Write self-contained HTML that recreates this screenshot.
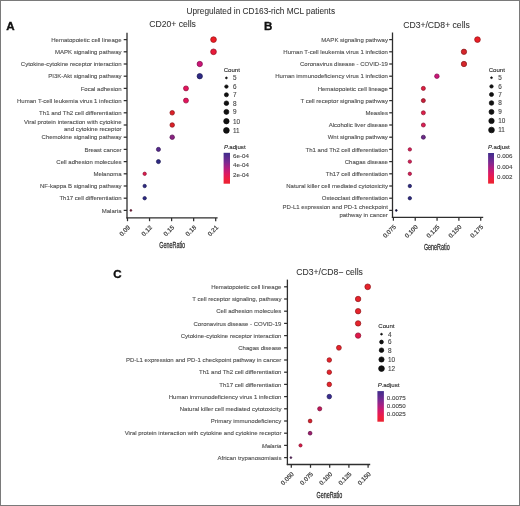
<!DOCTYPE html>
<html><head><meta charset="utf-8"><style>
html,body{margin:0;padding:0;background:#fff;}
body{width:520px;height:506px;overflow:hidden;position:relative;}
svg{position:absolute;left:0;top:0;will-change:transform;filter:blur(0.3px);}
svg{font-family:"Liberation Sans",sans-serif;}
.frame{position:absolute;left:0;top:0;width:520px;height:506px;box-sizing:border-box;border:1px solid #7a7a7a;}
</style></head><body>
<svg width="520" height="506" viewBox="0 0 520 506">
<line x1="127.00" y1="32.80" x2="127.00" y2="218.50" stroke="#2e2e2e" stroke-width="1.3"/>
<line x1="126.40" y1="217.90" x2="217.60" y2="217.90" stroke="#2e2e2e" stroke-width="1.3"/>
<line x1="123.70" y1="39.60" x2="127.00" y2="39.60" stroke="#2e2e2e" stroke-width="1.25"/>
<text x="121.50" y="41.80" font-size="6.03" text-anchor="end" fill="#505050"  stroke="#505050" stroke-width="0.12">Hematopoietic cell lineage</text>
<line x1="123.70" y1="51.80" x2="127.00" y2="51.80" stroke="#2e2e2e" stroke-width="1.25"/>
<text x="121.50" y="54.00" font-size="6.03" text-anchor="end" fill="#505050"  stroke="#505050" stroke-width="0.12">MAPK signaling pathway</text>
<line x1="123.70" y1="64.00" x2="127.00" y2="64.00" stroke="#2e2e2e" stroke-width="1.25"/>
<text x="121.50" y="66.20" font-size="6.03" text-anchor="end" fill="#505050"  stroke="#505050" stroke-width="0.12">Cytokine-cytokine receptor interaction</text>
<line x1="123.70" y1="76.20" x2="127.00" y2="76.20" stroke="#2e2e2e" stroke-width="1.25"/>
<text x="121.50" y="78.40" font-size="6.03" text-anchor="end" fill="#505050"  stroke="#505050" stroke-width="0.12">PI3K-Akt signaling pathway</text>
<line x1="123.70" y1="88.40" x2="127.00" y2="88.40" stroke="#2e2e2e" stroke-width="1.25"/>
<text x="121.50" y="90.60" font-size="6.03" text-anchor="end" fill="#505050"  stroke="#505050" stroke-width="0.12">Focal adhesion</text>
<line x1="123.70" y1="100.60" x2="127.00" y2="100.60" stroke="#2e2e2e" stroke-width="1.25"/>
<text x="121.50" y="102.80" font-size="6.03" text-anchor="end" fill="#505050"  stroke="#505050" stroke-width="0.12">Human T-cell leukemia virus 1 infection</text>
<line x1="123.70" y1="112.80" x2="127.00" y2="112.80" stroke="#2e2e2e" stroke-width="1.25"/>
<text x="121.50" y="115.00" font-size="6.03" text-anchor="end" fill="#505050"  stroke="#505050" stroke-width="0.12">Th1 and Th2 cell differentiation</text>
<line x1="123.70" y1="125.00" x2="127.00" y2="125.00" stroke="#2e2e2e" stroke-width="1.25"/>
<text x="121.50" y="123.60" font-size="6.03" text-anchor="end" fill="#505050"  stroke="#505050" stroke-width="0.12">Viral protein interaction with cytokine</text>
<text x="121.50" y="131.40" font-size="6.03" text-anchor="end" fill="#505050"  stroke="#505050" stroke-width="0.12">and cytokine receptor</text>
<line x1="123.70" y1="137.20" x2="127.00" y2="137.20" stroke="#2e2e2e" stroke-width="1.25"/>
<text x="121.50" y="139.40" font-size="6.03" text-anchor="end" fill="#505050"  stroke="#505050" stroke-width="0.12">Chemokine signaling pathway</text>
<line x1="123.70" y1="149.40" x2="127.00" y2="149.40" stroke="#2e2e2e" stroke-width="1.25"/>
<text x="121.50" y="151.60" font-size="6.03" text-anchor="end" fill="#505050"  stroke="#505050" stroke-width="0.12">Breast cancer</text>
<line x1="123.70" y1="161.60" x2="127.00" y2="161.60" stroke="#2e2e2e" stroke-width="1.25"/>
<text x="121.50" y="163.80" font-size="6.03" text-anchor="end" fill="#505050"  stroke="#505050" stroke-width="0.12">Cell adhesion molecules</text>
<line x1="123.70" y1="173.80" x2="127.00" y2="173.80" stroke="#2e2e2e" stroke-width="1.25"/>
<text x="121.50" y="176.00" font-size="6.03" text-anchor="end" fill="#505050"  stroke="#505050" stroke-width="0.12">Melanoma</text>
<line x1="123.70" y1="186.00" x2="127.00" y2="186.00" stroke="#2e2e2e" stroke-width="1.25"/>
<text x="121.50" y="188.20" font-size="6.03" text-anchor="end" fill="#505050"  stroke="#505050" stroke-width="0.12">NF-kappa B signaling pathway</text>
<line x1="123.70" y1="198.20" x2="127.00" y2="198.20" stroke="#2e2e2e" stroke-width="1.25"/>
<text x="121.50" y="200.40" font-size="6.03" text-anchor="end" fill="#505050"  stroke="#505050" stroke-width="0.12">Th17 cell differentiation</text>
<line x1="123.70" y1="210.40" x2="127.00" y2="210.40" stroke="#2e2e2e" stroke-width="1.25"/>
<text x="121.50" y="212.60" font-size="6.03" text-anchor="end" fill="#505050"  stroke="#505050" stroke-width="0.12">Malaria</text>
<line x1="127.50" y1="217.90" x2="127.50" y2="221.20" stroke="#2e2e2e" stroke-width="1.25"/>
<text x="130.50" y="227.90" font-size="6.2" text-anchor="end" fill="#353535" stroke="#353535" stroke-width="0.2" transform="rotate(-45 130.50 227.90)">0.09</text>
<line x1="149.55" y1="217.90" x2="149.55" y2="221.20" stroke="#2e2e2e" stroke-width="1.25"/>
<text x="152.55" y="227.90" font-size="6.2" text-anchor="end" fill="#353535" stroke="#353535" stroke-width="0.2" transform="rotate(-45 152.55 227.90)">0.12</text>
<line x1="171.60" y1="217.90" x2="171.60" y2="221.20" stroke="#2e2e2e" stroke-width="1.25"/>
<text x="174.60" y="227.90" font-size="6.2" text-anchor="end" fill="#353535" stroke="#353535" stroke-width="0.2" transform="rotate(-45 174.60 227.90)">0.15</text>
<line x1="193.65" y1="217.90" x2="193.65" y2="221.20" stroke="#2e2e2e" stroke-width="1.25"/>
<text x="196.65" y="227.90" font-size="6.2" text-anchor="end" fill="#353535" stroke="#353535" stroke-width="0.2" transform="rotate(-45 196.65 227.90)">0.18</text>
<line x1="215.70" y1="217.90" x2="215.70" y2="221.20" stroke="#2e2e2e" stroke-width="1.25"/>
<text x="218.70" y="227.90" font-size="6.2" text-anchor="end" fill="#353535" stroke="#353535" stroke-width="0.2" transform="rotate(-45 218.70 227.90)">0.21</text>
<text x="0" y="0" font-size="8.4" fill="#353535" stroke="#353535" stroke-width="0.3" text-anchor="middle" transform="translate(172.20 247.50) scale(0.645 1)">GeneRatio</text>
<text x="149.20" y="27.40" font-size="8.65" text-anchor="start" fill="#333333" stroke="#333333" stroke-width="0.06">CD20+ cells</text>
<text x="6.20" y="30.00" font-size="11.6" text-anchor="start" fill="#111" font-weight="bold" stroke="#111" stroke-width="0.35">A</text>
<circle cx="213.52" cy="39.60" r="2.85" fill="#ee1c25" stroke="#931116" stroke-width="0.7"/>
<circle cx="213.52" cy="51.80" r="2.85" fill="#e81a3a" stroke="#8f1023" stroke-width="0.7"/>
<circle cx="199.75" cy="64.00" r="2.68" fill="#cc1578" stroke="#7e0d4a" stroke-width="0.7"/>
<circle cx="199.75" cy="76.20" r="2.68" fill="#2e2a85" stroke="#1c1a52" stroke-width="0.7"/>
<circle cx="185.98" cy="88.40" r="2.49" fill="#e3145c" stroke="#8c0c39" stroke-width="0.7"/>
<circle cx="185.98" cy="100.60" r="2.49" fill="#e3145c" stroke="#8c0c39" stroke-width="0.7"/>
<circle cx="172.21" cy="112.80" r="2.28" fill="#dc2028" stroke="#881318" stroke-width="0.7"/>
<circle cx="172.21" cy="125.00" r="2.28" fill="#dc2028" stroke="#881318" stroke-width="0.7"/>
<circle cx="172.21" cy="137.20" r="2.28" fill="#8a2282" stroke="#551550" stroke-width="0.7"/>
<circle cx="158.44" cy="149.40" r="2.03" fill="#55298c" stroke="#341956" stroke-width="0.7"/>
<circle cx="158.44" cy="161.60" r="2.03" fill="#2e2a85" stroke="#1c1a52" stroke-width="0.7"/>
<circle cx="144.67" cy="173.80" r="1.70" fill="#df1c4e" stroke="#8a1130" stroke-width="0.7"/>
<circle cx="144.67" cy="186.00" r="1.70" fill="#2e2a85" stroke="#1c1a52" stroke-width="0.7"/>
<circle cx="144.67" cy="198.20" r="1.70" fill="#2e2a85" stroke="#1c1a52" stroke-width="0.7"/>
<circle cx="130.90" cy="210.40" r="0.90" fill="#7a1a3a" stroke="#4b1023" stroke-width="0.7"/>
<text x="223.70" y="71.90" font-size="6.1" text-anchor="start" fill="#2a2a2a"  stroke="#2a2a2a" stroke-width="0.12">Count</text>
<circle cx="226.40" cy="77.90" r="0.90" fill="#111111" stroke="#0a0a0a" stroke-width="0.7"/>
<text x="232.90" y="80.20" font-size="6.4" text-anchor="start" fill="#454545"  stroke="#454545" stroke-width="0.12">5</text>
<circle cx="226.40" cy="86.60" r="1.70" fill="#111111" stroke="#0a0a0a" stroke-width="0.7"/>
<text x="232.90" y="88.90" font-size="6.4" text-anchor="start" fill="#454545"  stroke="#454545" stroke-width="0.12">6</text>
<circle cx="226.40" cy="94.80" r="2.03" fill="#111111" stroke="#0a0a0a" stroke-width="0.7"/>
<text x="232.90" y="97.10" font-size="6.4" text-anchor="start" fill="#454545"  stroke="#454545" stroke-width="0.12">7</text>
<circle cx="226.40" cy="103.20" r="2.28" fill="#111111" stroke="#0a0a0a" stroke-width="0.7"/>
<text x="232.90" y="105.50" font-size="6.4" text-anchor="start" fill="#454545"  stroke="#454545" stroke-width="0.12">8</text>
<circle cx="226.40" cy="111.90" r="2.49" fill="#111111" stroke="#0a0a0a" stroke-width="0.7"/>
<text x="232.90" y="114.20" font-size="6.4" text-anchor="start" fill="#454545"  stroke="#454545" stroke-width="0.12">9</text>
<circle cx="226.40" cy="121.20" r="2.68" fill="#111111" stroke="#0a0a0a" stroke-width="0.7"/>
<text x="232.90" y="123.50" font-size="6.4" text-anchor="start" fill="#454545"  stroke="#454545" stroke-width="0.12">10</text>
<circle cx="226.40" cy="130.40" r="2.85" fill="#111111" stroke="#0a0a0a" stroke-width="0.7"/>
<text x="232.90" y="132.70" font-size="6.4" text-anchor="start" fill="#454545"  stroke="#454545" stroke-width="0.12">11</text>
<text x="223.90" y="148.70" font-size="6.1" text-anchor="start" fill="#2a2a2a"  stroke="#2a2a2a" stroke-width="0.12"><tspan font-style="italic">P</tspan><tspan dx="-0.35">.adjust</tspan></text>
<defs><linearGradient id="gA" x1="0" y1="0" x2="0" y2="1"><stop offset="0" stop-color="#3f2d8c"/><stop offset="0.3" stop-color="#7a2a92"/><stop offset="0.5" stop-color="#b21f80"/><stop offset="0.68" stop-color="#dc1a62"/><stop offset="0.85" stop-color="#ef1f40"/><stop offset="1" stop-color="#ea2230"/></linearGradient></defs>
<rect x="223.6" y="152.8" width="6.400000000000006" height="30.899999999999977" fill="url(#gA)"/>
<text x="233.00" y="158.30" font-size="6.2" text-anchor="start" fill="#454545"  stroke="#454545" stroke-width="0.12">6e-04</text>
<text x="233.00" y="167.40" font-size="6.2" text-anchor="start" fill="#454545"  stroke="#454545" stroke-width="0.12">4e-04</text>
<text x="233.00" y="177.00" font-size="6.2" text-anchor="start" fill="#454545"  stroke="#454545" stroke-width="0.12">2e-04</text>
<line x1="392.50" y1="32.50" x2="392.50" y2="218.00" stroke="#2e2e2e" stroke-width="1.3"/>
<line x1="391.90" y1="217.40" x2="483.20" y2="217.40" stroke="#2e2e2e" stroke-width="1.3"/>
<line x1="389.20" y1="39.60" x2="392.50" y2="39.60" stroke="#2e2e2e" stroke-width="1.25"/>
<text x="387.90" y="41.80" font-size="6.03" text-anchor="end" fill="#505050"  stroke="#505050" stroke-width="0.12">MAPK signaling pathway</text>
<line x1="389.20" y1="51.80" x2="392.50" y2="51.80" stroke="#2e2e2e" stroke-width="1.25"/>
<text x="387.90" y="54.00" font-size="6.03" text-anchor="end" fill="#505050"  stroke="#505050" stroke-width="0.12">Human T-cell leukemia virus 1 infection</text>
<line x1="389.20" y1="64.00" x2="392.50" y2="64.00" stroke="#2e2e2e" stroke-width="1.25"/>
<text x="387.90" y="66.20" font-size="6.03" text-anchor="end" fill="#505050"  stroke="#505050" stroke-width="0.12">Coronavirus disease - COVID-19</text>
<line x1="389.20" y1="76.20" x2="392.50" y2="76.20" stroke="#2e2e2e" stroke-width="1.25"/>
<text x="387.90" y="78.40" font-size="6.03" text-anchor="end" fill="#505050"  stroke="#505050" stroke-width="0.12">Human immunodeficiency virus 1 infection</text>
<line x1="389.20" y1="88.40" x2="392.50" y2="88.40" stroke="#2e2e2e" stroke-width="1.25"/>
<text x="387.90" y="90.60" font-size="6.03" text-anchor="end" fill="#505050"  stroke="#505050" stroke-width="0.12">Hematopoietic cell lineage</text>
<line x1="389.20" y1="100.60" x2="392.50" y2="100.60" stroke="#2e2e2e" stroke-width="1.25"/>
<text x="387.90" y="102.80" font-size="6.03" text-anchor="end" fill="#505050"  stroke="#505050" stroke-width="0.12">T cell receptor signaling pathway</text>
<line x1="389.20" y1="112.80" x2="392.50" y2="112.80" stroke="#2e2e2e" stroke-width="1.25"/>
<text x="387.90" y="115.00" font-size="6.03" text-anchor="end" fill="#505050"  stroke="#505050" stroke-width="0.12">Measles</text>
<line x1="389.20" y1="125.00" x2="392.50" y2="125.00" stroke="#2e2e2e" stroke-width="1.25"/>
<text x="387.90" y="127.20" font-size="6.03" text-anchor="end" fill="#505050"  stroke="#505050" stroke-width="0.12">Alcoholic liver disease</text>
<line x1="389.20" y1="137.20" x2="392.50" y2="137.20" stroke="#2e2e2e" stroke-width="1.25"/>
<text x="387.90" y="139.40" font-size="6.03" text-anchor="end" fill="#505050"  stroke="#505050" stroke-width="0.12">Wnt signaling pathway</text>
<line x1="389.20" y1="149.40" x2="392.50" y2="149.40" stroke="#2e2e2e" stroke-width="1.25"/>
<text x="387.90" y="151.60" font-size="6.03" text-anchor="end" fill="#505050"  stroke="#505050" stroke-width="0.12">Th1 and Th2 cell differentiation</text>
<line x1="389.20" y1="161.60" x2="392.50" y2="161.60" stroke="#2e2e2e" stroke-width="1.25"/>
<text x="387.90" y="163.80" font-size="6.03" text-anchor="end" fill="#505050"  stroke="#505050" stroke-width="0.12">Chagas disease</text>
<line x1="389.20" y1="173.80" x2="392.50" y2="173.80" stroke="#2e2e2e" stroke-width="1.25"/>
<text x="387.90" y="176.00" font-size="6.03" text-anchor="end" fill="#505050"  stroke="#505050" stroke-width="0.12">Th17 cell differentiation</text>
<line x1="389.20" y1="186.00" x2="392.50" y2="186.00" stroke="#2e2e2e" stroke-width="1.25"/>
<text x="387.90" y="188.20" font-size="6.03" text-anchor="end" fill="#505050"  stroke="#505050" stroke-width="0.12">Natural killer cell mediated cytotoxicity</text>
<line x1="389.20" y1="198.20" x2="392.50" y2="198.20" stroke="#2e2e2e" stroke-width="1.25"/>
<text x="387.90" y="200.40" font-size="6.03" text-anchor="end" fill="#505050"  stroke="#505050" stroke-width="0.12">Osteoclast differentiation</text>
<line x1="389.20" y1="210.40" x2="392.50" y2="210.40" stroke="#2e2e2e" stroke-width="1.25"/>
<text x="387.90" y="209.00" font-size="6.03" text-anchor="end" fill="#505050"  stroke="#505050" stroke-width="0.12">PD-L1 expression and PD-1 checkpoint</text>
<text x="387.90" y="216.80" font-size="6.03" text-anchor="end" fill="#505050"  stroke="#505050" stroke-width="0.12">pathway in cancer</text>
<line x1="393.40" y1="217.40" x2="393.40" y2="220.70" stroke="#2e2e2e" stroke-width="1.25"/>
<text x="396.40" y="227.40" font-size="6.2" text-anchor="end" fill="#353535" stroke="#353535" stroke-width="0.2" transform="rotate(-45 396.40 227.40)">0.075</text>
<line x1="415.23" y1="217.40" x2="415.23" y2="220.70" stroke="#2e2e2e" stroke-width="1.25"/>
<text x="418.23" y="227.40" font-size="6.2" text-anchor="end" fill="#353535" stroke="#353535" stroke-width="0.2" transform="rotate(-45 418.23 227.40)">0.100</text>
<line x1="437.06" y1="217.40" x2="437.06" y2="220.70" stroke="#2e2e2e" stroke-width="1.25"/>
<text x="440.06" y="227.40" font-size="6.2" text-anchor="end" fill="#353535" stroke="#353535" stroke-width="0.2" transform="rotate(-45 440.06 227.40)">0.125</text>
<line x1="458.89" y1="217.40" x2="458.89" y2="220.70" stroke="#2e2e2e" stroke-width="1.25"/>
<text x="461.89" y="227.40" font-size="6.2" text-anchor="end" fill="#353535" stroke="#353535" stroke-width="0.2" transform="rotate(-45 461.89 227.40)">0.150</text>
<line x1="480.72" y1="217.40" x2="480.72" y2="220.70" stroke="#2e2e2e" stroke-width="1.25"/>
<text x="483.72" y="227.40" font-size="6.2" text-anchor="end" fill="#353535" stroke="#353535" stroke-width="0.2" transform="rotate(-45 483.72 227.40)">0.175</text>
<text x="0" y="0" font-size="8.4" fill="#353535" stroke="#353535" stroke-width="0.3" text-anchor="middle" transform="translate(436.80 250.20) scale(0.645 1)">GeneRatio</text>
<text x="403.20" y="27.70" font-size="8.65" text-anchor="start" fill="#333333" stroke="#333333" stroke-width="0.06">CD3+/CD8+ cells</text>
<text x="264.00" y="30.00" font-size="11.6" text-anchor="start" fill="#111" font-weight="bold" stroke="#111" stroke-width="0.35">B</text>
<circle cx="477.48" cy="39.60" r="2.85" fill="#ea1f26" stroke="#911317" stroke-width="0.7"/>
<circle cx="463.95" cy="51.80" r="2.68" fill="#d6262b" stroke="#84171a" stroke-width="0.7"/>
<circle cx="463.95" cy="64.00" r="2.68" fill="#d6262b" stroke="#84171a" stroke-width="0.7"/>
<circle cx="436.89" cy="76.20" r="2.28" fill="#cc1578" stroke="#7e0d4a" stroke-width="0.7"/>
<circle cx="423.36" cy="88.40" r="2.03" fill="#de1f42" stroke="#891328" stroke-width="0.7"/>
<circle cx="423.36" cy="100.60" r="2.03" fill="#c81f3a" stroke="#7c1323" stroke-width="0.7"/>
<circle cx="423.36" cy="112.80" r="2.03" fill="#de1f4a" stroke="#89132d" stroke-width="0.7"/>
<circle cx="423.36" cy="125.00" r="2.03" fill="#dc1f55" stroke="#881334" stroke-width="0.7"/>
<circle cx="423.36" cy="137.20" r="2.03" fill="#6c2a88" stroke="#421a54" stroke-width="0.7"/>
<circle cx="409.83" cy="149.40" r="1.70" fill="#d81c56" stroke="#851135" stroke-width="0.7"/>
<circle cx="409.83" cy="161.60" r="1.70" fill="#d81c56" stroke="#851135" stroke-width="0.7"/>
<circle cx="409.83" cy="173.80" r="1.70" fill="#d81c56" stroke="#851135" stroke-width="0.7"/>
<circle cx="409.83" cy="186.00" r="1.70" fill="#2f2b82" stroke="#1d1a50" stroke-width="0.7"/>
<circle cx="409.83" cy="198.20" r="1.70" fill="#2f2b82" stroke="#1d1a50" stroke-width="0.7"/>
<circle cx="396.30" cy="210.40" r="0.90" fill="#15144a" stroke="#0d0c2d" stroke-width="0.7"/>
<text x="488.70" y="71.60" font-size="6.1" text-anchor="start" fill="#2a2a2a"  stroke="#2a2a2a" stroke-width="0.12">Count</text>
<circle cx="491.50" cy="77.70" r="0.90" fill="#111111" stroke="#0a0a0a" stroke-width="0.7"/>
<text x="498.20" y="80.00" font-size="6.4" text-anchor="start" fill="#454545"  stroke="#454545" stroke-width="0.12">5</text>
<circle cx="491.50" cy="86.40" r="1.70" fill="#111111" stroke="#0a0a0a" stroke-width="0.7"/>
<text x="498.20" y="88.70" font-size="6.4" text-anchor="start" fill="#454545"  stroke="#454545" stroke-width="0.12">6</text>
<circle cx="491.50" cy="94.50" r="2.03" fill="#111111" stroke="#0a0a0a" stroke-width="0.7"/>
<text x="498.20" y="96.80" font-size="6.4" text-anchor="start" fill="#454545"  stroke="#454545" stroke-width="0.12">7</text>
<circle cx="491.50" cy="103.00" r="2.28" fill="#111111" stroke="#0a0a0a" stroke-width="0.7"/>
<text x="498.20" y="105.30" font-size="6.4" text-anchor="start" fill="#454545"  stroke="#454545" stroke-width="0.12">8</text>
<circle cx="491.50" cy="111.90" r="2.49" fill="#111111" stroke="#0a0a0a" stroke-width="0.7"/>
<text x="498.20" y="114.20" font-size="6.4" text-anchor="start" fill="#454545"  stroke="#454545" stroke-width="0.12">9</text>
<circle cx="491.50" cy="120.90" r="2.68" fill="#111111" stroke="#0a0a0a" stroke-width="0.7"/>
<text x="498.20" y="123.20" font-size="6.4" text-anchor="start" fill="#454545"  stroke="#454545" stroke-width="0.12">10</text>
<circle cx="491.50" cy="130.00" r="2.85" fill="#111111" stroke="#0a0a0a" stroke-width="0.7"/>
<text x="498.20" y="132.30" font-size="6.4" text-anchor="start" fill="#454545"  stroke="#454545" stroke-width="0.12">11</text>
<text x="488.10" y="148.70" font-size="6.1" text-anchor="start" fill="#2a2a2a"  stroke="#2a2a2a" stroke-width="0.12"><tspan font-style="italic">P</tspan><tspan dx="-0.35">.adjust</tspan></text>
<defs><linearGradient id="gB" x1="0" y1="0" x2="0" y2="1"><stop offset="0" stop-color="#3f2d8c"/><stop offset="0.3" stop-color="#7a2a92"/><stop offset="0.5" stop-color="#b21f80"/><stop offset="0.68" stop-color="#dc1a62"/><stop offset="0.85" stop-color="#ef1f40"/><stop offset="1" stop-color="#ea2230"/></linearGradient></defs>
<rect x="488.1" y="153" width="5.899999999999977" height="30.599999999999994" fill="url(#gB)"/>
<text x="497.00" y="158.30" font-size="6.2" text-anchor="start" fill="#454545"  stroke="#454545" stroke-width="0.12">0.006</text>
<text x="497.00" y="168.70" font-size="6.2" text-anchor="start" fill="#454545"  stroke="#454545" stroke-width="0.12">0.004</text>
<text x="497.00" y="178.80" font-size="6.2" text-anchor="start" fill="#454545"  stroke="#454545" stroke-width="0.12">0.002</text>
<line x1="287.40" y1="279.60" x2="287.40" y2="465.10" stroke="#2e2e2e" stroke-width="1.3"/>
<line x1="286.80" y1="464.50" x2="370.20" y2="464.50" stroke="#2e2e2e" stroke-width="1.3"/>
<line x1="284.10" y1="286.80" x2="287.40" y2="286.80" stroke="#2e2e2e" stroke-width="1.25"/>
<text x="281.40" y="289.00" font-size="6.03" text-anchor="end" fill="#505050"  stroke="#505050" stroke-width="0.12">Hematopoietic cell lineage</text>
<line x1="284.10" y1="299.00" x2="287.40" y2="299.00" stroke="#2e2e2e" stroke-width="1.25"/>
<text x="281.40" y="301.20" font-size="6.03" text-anchor="end" fill="#505050"  stroke="#505050" stroke-width="0.12">T cell receptor signaling, pathway</text>
<line x1="284.10" y1="311.20" x2="287.40" y2="311.20" stroke="#2e2e2e" stroke-width="1.25"/>
<text x="281.40" y="313.40" font-size="6.03" text-anchor="end" fill="#505050"  stroke="#505050" stroke-width="0.12">Cell adhesion molecules</text>
<line x1="284.10" y1="323.40" x2="287.40" y2="323.40" stroke="#2e2e2e" stroke-width="1.25"/>
<text x="281.40" y="325.60" font-size="6.03" text-anchor="end" fill="#505050"  stroke="#505050" stroke-width="0.12">Coronavirus disease - COVID-19</text>
<line x1="284.10" y1="335.60" x2="287.40" y2="335.60" stroke="#2e2e2e" stroke-width="1.25"/>
<text x="281.40" y="337.80" font-size="6.03" text-anchor="end" fill="#505050"  stroke="#505050" stroke-width="0.12">Cytokine-cytokine receptor interaction</text>
<line x1="284.10" y1="347.80" x2="287.40" y2="347.80" stroke="#2e2e2e" stroke-width="1.25"/>
<text x="281.40" y="350.00" font-size="6.03" text-anchor="end" fill="#505050"  stroke="#505050" stroke-width="0.12">Chagas disease</text>
<line x1="284.10" y1="360.00" x2="287.40" y2="360.00" stroke="#2e2e2e" stroke-width="1.25"/>
<text x="281.40" y="362.20" font-size="6.03" text-anchor="end" fill="#505050"  stroke="#505050" stroke-width="0.12">PD-L1 expression and PD-1 checkpoint pathway in cancer</text>
<line x1="284.10" y1="372.20" x2="287.40" y2="372.20" stroke="#2e2e2e" stroke-width="1.25"/>
<text x="281.40" y="374.40" font-size="6.03" text-anchor="end" fill="#505050"  stroke="#505050" stroke-width="0.12">Th1 and Th2 cell differentiation</text>
<line x1="284.10" y1="384.40" x2="287.40" y2="384.40" stroke="#2e2e2e" stroke-width="1.25"/>
<text x="281.40" y="386.60" font-size="6.03" text-anchor="end" fill="#505050"  stroke="#505050" stroke-width="0.12">Th17 cell differentiation</text>
<line x1="284.10" y1="396.60" x2="287.40" y2="396.60" stroke="#2e2e2e" stroke-width="1.25"/>
<text x="281.40" y="398.80" font-size="6.03" text-anchor="end" fill="#505050"  stroke="#505050" stroke-width="0.12">Human immunodeficiency virus 1 infection</text>
<line x1="284.10" y1="408.80" x2="287.40" y2="408.80" stroke="#2e2e2e" stroke-width="1.25"/>
<text x="281.40" y="411.00" font-size="6.03" text-anchor="end" fill="#505050"  stroke="#505050" stroke-width="0.12">Natural killer cell mediated cytotoxicity</text>
<line x1="284.10" y1="421.00" x2="287.40" y2="421.00" stroke="#2e2e2e" stroke-width="1.25"/>
<text x="281.40" y="423.20" font-size="6.03" text-anchor="end" fill="#505050"  stroke="#505050" stroke-width="0.12">Primary immunodeficiency</text>
<line x1="284.10" y1="433.20" x2="287.40" y2="433.20" stroke="#2e2e2e" stroke-width="1.25"/>
<text x="281.40" y="435.40" font-size="6.03" text-anchor="end" fill="#505050"  stroke="#505050" stroke-width="0.12">Viral protein interaction with cytokine and cytokine receptor</text>
<line x1="284.10" y1="445.40" x2="287.40" y2="445.40" stroke="#2e2e2e" stroke-width="1.25"/>
<text x="281.40" y="447.60" font-size="6.03" text-anchor="end" fill="#505050"  stroke="#505050" stroke-width="0.12"><tspan font-style="italic">Malaria</tspan></text>
<line x1="284.10" y1="457.60" x2="287.40" y2="457.60" stroke="#2e2e2e" stroke-width="1.25"/>
<text x="281.40" y="459.80" font-size="6.03" text-anchor="end" fill="#505050"  stroke="#505050" stroke-width="0.12">African trypanosomiasis</text>
<line x1="291.30" y1="464.50" x2="291.30" y2="467.80" stroke="#2e2e2e" stroke-width="1.25"/>
<text x="294.30" y="474.50" font-size="6.2" text-anchor="end" fill="#353535" stroke="#353535" stroke-width="0.2" transform="rotate(-45 294.30 474.50)">0.050</text>
<line x1="310.50" y1="464.50" x2="310.50" y2="467.80" stroke="#2e2e2e" stroke-width="1.25"/>
<text x="313.50" y="474.50" font-size="6.2" text-anchor="end" fill="#353535" stroke="#353535" stroke-width="0.2" transform="rotate(-45 313.50 474.50)">0.075</text>
<line x1="329.70" y1="464.50" x2="329.70" y2="467.80" stroke="#2e2e2e" stroke-width="1.25"/>
<text x="332.70" y="474.50" font-size="6.2" text-anchor="end" fill="#353535" stroke="#353535" stroke-width="0.2" transform="rotate(-45 332.70 474.50)">0.100</text>
<line x1="348.90" y1="464.50" x2="348.90" y2="467.80" stroke="#2e2e2e" stroke-width="1.25"/>
<text x="351.90" y="474.50" font-size="6.2" text-anchor="end" fill="#353535" stroke="#353535" stroke-width="0.2" transform="rotate(-45 351.90 474.50)">0.125</text>
<line x1="368.10" y1="464.50" x2="368.10" y2="467.80" stroke="#2e2e2e" stroke-width="1.25"/>
<text x="371.10" y="474.50" font-size="6.2" text-anchor="end" fill="#353535" stroke="#353535" stroke-width="0.2" transform="rotate(-45 371.10 474.50)">0.150</text>
<text x="0" y="0" font-size="8.4" fill="#353535" stroke="#353535" stroke-width="0.3" text-anchor="middle" transform="translate(329.40 497.50) scale(0.645 1)">GeneRatio</text>
<text x="296.30" y="274.60" font-size="8.65" text-anchor="start" fill="#333333" stroke="#333333" stroke-width="0.06">CD3+/CD8− cells</text>
<text x="113.30" y="277.60" font-size="11.6" text-anchor="start" fill="#111" font-weight="bold" stroke="#111" stroke-width="0.35">C</text>
<circle cx="367.70" cy="286.80" r="2.85" fill="#e6232b" stroke="#8e151a" stroke-width="0.7"/>
<circle cx="358.10" cy="299.00" r="2.72" fill="#e6232b" stroke="#8e151a" stroke-width="0.7"/>
<circle cx="358.10" cy="311.20" r="2.72" fill="#e6232b" stroke="#8e151a" stroke-width="0.7"/>
<circle cx="358.10" cy="323.40" r="2.72" fill="#e6232b" stroke="#8e151a" stroke-width="0.7"/>
<circle cx="358.10" cy="335.60" r="2.72" fill="#e0184a" stroke="#8a0e2d" stroke-width="0.7"/>
<circle cx="338.90" cy="347.80" r="2.44" fill="#e6232b" stroke="#8e151a" stroke-width="0.7"/>
<circle cx="329.30" cy="360.00" r="2.28" fill="#e6232b" stroke="#8e151a" stroke-width="0.7"/>
<circle cx="329.30" cy="372.20" r="2.28" fill="#e6232b" stroke="#8e151a" stroke-width="0.7"/>
<circle cx="329.30" cy="384.40" r="2.28" fill="#e6232b" stroke="#8e151a" stroke-width="0.7"/>
<circle cx="329.30" cy="396.60" r="2.28" fill="#3a2d90" stroke="#231b59" stroke-width="0.7"/>
<circle cx="319.70" cy="408.80" r="2.09" fill="#c0185a" stroke="#770e37" stroke-width="0.7"/>
<circle cx="310.10" cy="421.00" r="1.88" fill="#d8202c" stroke="#85131b" stroke-width="0.7"/>
<circle cx="310.10" cy="433.20" r="1.88" fill="#9c1c6e" stroke="#601144" stroke-width="0.7"/>
<circle cx="300.50" cy="445.40" r="1.59" fill="#d81a48" stroke="#85102c" stroke-width="0.7"/>
<circle cx="290.90" cy="457.60" r="0.90" fill="#5a2060" stroke="#37133b" stroke-width="0.7"/>
<text x="378.30" y="327.80" font-size="6.1" text-anchor="start" fill="#2a2a2a"  stroke="#2a2a2a" stroke-width="0.12">Count</text>
<circle cx="381.50" cy="334.20" r="0.90" fill="#111111" stroke="#0a0a0a" stroke-width="0.7"/>
<text x="388.00" y="336.50" font-size="6.4" text-anchor="start" fill="#454545"  stroke="#454545" stroke-width="0.12">4</text>
<circle cx="381.50" cy="342.00" r="1.88" fill="#111111" stroke="#0a0a0a" stroke-width="0.7"/>
<text x="388.00" y="344.30" font-size="6.4" text-anchor="start" fill="#454545"  stroke="#454545" stroke-width="0.12">6</text>
<circle cx="381.50" cy="350.20" r="2.28" fill="#111111" stroke="#0a0a0a" stroke-width="0.7"/>
<text x="388.00" y="352.50" font-size="6.4" text-anchor="start" fill="#454545"  stroke="#454545" stroke-width="0.12">8</text>
<circle cx="381.50" cy="359.50" r="2.59" fill="#111111" stroke="#0a0a0a" stroke-width="0.7"/>
<text x="388.00" y="361.80" font-size="6.4" text-anchor="start" fill="#454545"  stroke="#454545" stroke-width="0.12">10</text>
<circle cx="381.50" cy="368.60" r="2.85" fill="#111111" stroke="#0a0a0a" stroke-width="0.7"/>
<text x="388.00" y="370.90" font-size="6.4" text-anchor="start" fill="#454545"  stroke="#454545" stroke-width="0.12">12</text>
<text x="377.80" y="386.80" font-size="6.1" text-anchor="start" fill="#2a2a2a"  stroke="#2a2a2a" stroke-width="0.12"><tspan font-style="italic">P</tspan><tspan dx="-0.35">.adjust</tspan></text>
<defs><linearGradient id="gC" x1="0" y1="0" x2="0" y2="1"><stop offset="0" stop-color="#3f2d8c"/><stop offset="0.3" stop-color="#7a2a92"/><stop offset="0.5" stop-color="#b21f80"/><stop offset="0.68" stop-color="#dc1a62"/><stop offset="0.85" stop-color="#ef1f40"/><stop offset="1" stop-color="#ea2230"/></linearGradient></defs>
<rect x="377.4" y="391.1" width="6.5" height="30.599999999999966" fill="url(#gC)"/>
<text x="386.80" y="400.10" font-size="6.2" text-anchor="start" fill="#454545"  stroke="#454545" stroke-width="0.12">0.0075</text>
<text x="386.80" y="408.10" font-size="6.2" text-anchor="start" fill="#454545"  stroke="#454545" stroke-width="0.12">0.0050</text>
<text x="386.80" y="415.90" font-size="6.2" text-anchor="start" fill="#454545"  stroke="#454545" stroke-width="0.12">0.0025</text>
<text x="186.50" y="13.80" font-size="8.28" text-anchor="start" fill="#333333" stroke="#333333" stroke-width="0.06">Upregulated in CD163-rich MCL patients</text>
</svg>
<div class="frame"></div>
</body></html>
